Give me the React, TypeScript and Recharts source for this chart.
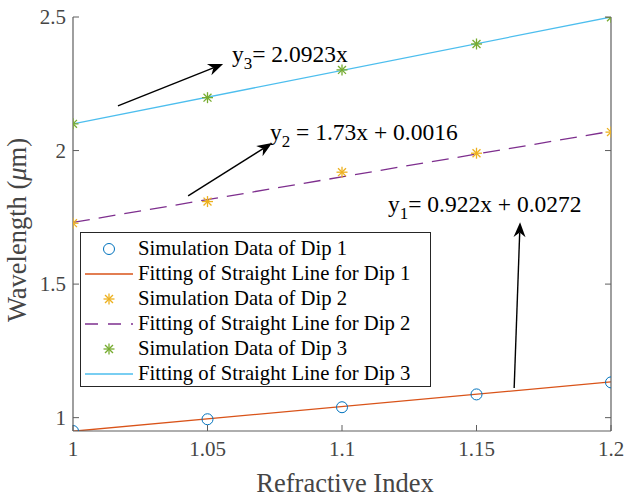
import React from 'react';
import {
  ComposedChart, Line, Scatter, XAxis, YAxis, Legend, ReferenceLine, ReferenceDot,
} from 'recharts';

// refractive index (x) for all simulations
const refIndex = [1, 1.05, 1.1, 1.15, 1.2];

// simulated dip wavelengths (um)
const dip1 = [0.95, 0.994, 1.039, 1.087, 1.132];
const dip2 = [1.728, 1.809, 1.919, 1.99, 2.069];
const dip3 = [2.1, 2.198, 2.302, 2.399, 2.499];

// fitted straight lines, end points
const fitX = [1, 1.2];
const fit1 = [0.949, 1.134];
const fit2 = [1.731, 2.072];
const fit3 = [2.1, 2.5];

const xTicks = [1, 1.05, 1.1, 1.15, 1.2];
const yTicks = [1, 1.5, 2, 2.5];

// annotations: arrows (from -> to) and equation text
const arrowFrom = [{ x: 1.164, y: 1.111 }, { x: 1.0428, y: 1.83 }, { x: 1.0167, y: 2.167 }];
const arrowTo = [{ x: 1.1662, y: 1.732 }, { x: 1.074, y: 2.028 }, { x: 1.0558, y: 2.324 }];
const eqPos = [{ x: 1.1171, y: 1.77 }, { x: 1.0732, y: 2.0395 }, { x: 1.0591, y: 2.3315 }];
const eqSub = ['1', '2', '3'];
const eqText = ['= 0.922x + 0.0272', ' = 1.73x + 0.0016', '= 2.0923x'];

const legendNames = [
  'Simulation Data of Dip 1',
  'Fitting of Straight Line for Dip 1',
  'Simulation Data of Dip 2',
  'Fitting of Straight Line for Dip 2',
  'Simulation Data of Dip 3',
  'Fitting of Straight Line for Dip 3',
];

const FONT = '"Liberation Serif", "Times New Roman", Times, serif';
const AXIS = '#5e5e5e';
const TXT = '#454545';

const toPts = (xs: number[], ys: number[]) => xs.map((x, i) => ({ x, y: ys[i] }));

const Circle = (p: any) => (
  <circle cx={p.cx} cy={p.cy} r={5.5} fill="none" stroke="#0072BD" strokeWidth={1} />
);

const Star = (color: string) => (p: any) => {
  const r = 5.5;
  const d = r * 0.72;
  return (
    <g stroke={color} strokeWidth={1.3}>
      <line x1={p.cx - r} y1={p.cy} x2={p.cx + r} y2={p.cy} />
      <line x1={p.cx} y1={p.cy - r} x2={p.cx} y2={p.cy + r} />
      <line x1={p.cx - d} y1={p.cy - d} x2={p.cx + d} y2={p.cy + d} />
      <line x1={p.cx - d} y1={p.cy + d} x2={p.cx + d} y2={p.cy - d} />
    </g>
  );
};

const Arrow = (p: any) => {
  const { x1, y1, x2, y2 } = p;
  const ang = Math.atan2(y2 - y1, x2 - x1);
  const L = 15, W = 6;
  const bx = x2 - L * Math.cos(ang), by = y2 - L * Math.sin(ang);
  const nx = -Math.sin(ang) * W, ny = Math.cos(ang) * W;
  const mx = x2 - L * 0.7 * Math.cos(ang), my = y2 - L * 0.7 * Math.sin(ang);
  return (
    <g>
      <line x1={x1} y1={y1} x2={mx} y2={my} stroke="#000" strokeWidth={1.4} />
      <polygon points={`${x2},${y2} ${bx + nx},${by + ny} ${mx},${my} ${bx - nx},${by - ny}`} fill="#000" />
    </g>
  );
};

const Equation = (i: number) => (p: any) => (
  <text x={p.cx} y={p.cy} fontFamily={FONT} fontSize={23.5} fill="#000">
    y<tspan fontSize={17} dy={7}>{eqSub[i]}</tspan>
    <tspan dy={-7}>{eqText[i]}</tspan>
  </text>
);

const BottomTick = (p: any) => (
  <g>
    <line x1={p.x} y1={p.y} x2={p.x} y2={p.y - 6} stroke={AXIS} />
    <text x={p.x} y={p.y + 25} textAnchor="middle" fontFamily={FONT} fontSize={21} fill={TXT}>
      {p.payload.value}
    </text>
  </g>
);
const LeftTick = (p: any) => (
  <g>
    <line x1={p.x} y1={p.y} x2={p.x + 6} y2={p.y} stroke={AXIS} />
    <text x={p.x - 7} y={p.y + 7} textAnchor="end" fontFamily={FONT} fontSize={21} fill={TXT}>
      {p.payload.value}
    </text>
  </g>
);
const TopTick = (p: any) => <line x1={p.x} y1={p.y} x2={p.x} y2={p.y + 6} stroke={AXIS} />;
const RightTick = (p: any) => <line x1={p.x} y1={p.y} x2={p.x - 6} y2={p.y} stroke={AXIS} />;

const legendIcon = (i: number) => {
  if (i === 0) return <circle cx={24} cy={10} r={5.5} fill="none" stroke="#0072BD" />;
  if (i === 2) return Star('#EDB120')({ cx: 24, cy: 10 });
  if (i === 4) return Star('#77AC30')({ cx: 24, cy: 10 });
  const color = i === 1 ? '#D95319' : i === 3 ? '#7E2F8E' : '#4DBEEE';
  return (
    <line x1={0} y1={10} x2={48} y2={10} stroke={color} strokeWidth={1.3}
      strokeDasharray={i === 3 ? '13 10' : undefined} />
  );
};

const LegendBox = () => (
  <div style={{
    border: '1.5px solid #262626', background: '#fff', padding: '3px 0 0 4px',
    width: 345, height: 150, boxSizing: 'content-box', fontFamily: FONT, fontSize: 20.7, color: '#000',
  }}>
    {legendNames.map((n, i) => (
      <div key={n} style={{ display: 'flex', alignItems: 'center', height: 25, whiteSpace: 'nowrap' }}>
        <svg width={48} height={20} style={{ marginRight: 5 }}>{legendIcon(i)}</svg>
        <span>{n}</span>
      </div>
    ))}
  </div>
);

export default function App() {
  return (
    <div style={{ position: 'absolute', left: 0, top: 0, width: 624, height: 497, background: '#fff' }}>
      <ComposedChart width={624} height={497} margin={{ top: 17, right: 0, bottom: 0, left: 13 }}>
        <XAxis xAxisId="b" type="number" dataKey="x" domain={[1, 1.2]} ticks={xTicks} height={66}
          axisLine={{ stroke: AXIS, strokeWidth: 1.2 }} tickLine={false} tickSize={0} tickMargin={0}
          tick={<BottomTick />} allowDataOverflow interval={0}
          label={(p: any) => {
            const v = p.viewBox;
            return (
              <text x={v.x + v.width / 2 + 3} y={492} textAnchor="middle" fontFamily={FONT} fontSize={26.5} fill={TXT}>
                Refractive Index
              </text>
            );
          }} />
        <XAxis xAxisId="t" orientation="top" type="number" dataKey="x" domain={[1, 1.2]} ticks={xTicks}
          height={0} axisLine={{ stroke: AXIS, strokeWidth: 1.2 }} tickLine={false} tickSize={0} tickMargin={0}
          tick={<TopTick />} allowDataOverflow interval={0} />
        <YAxis yAxisId="l" type="number" domain={[0.95, 2.5]} ticks={yTicks} width={60}
          axisLine={{ stroke: AXIS, strokeWidth: 1.2 }} tickLine={false} tickSize={0} tickMargin={0}
          tick={<LeftTick />} allowDataOverflow interval={0}
          label={(p: any) => {
            const v = p.viewBox;
            const cy = v.y + v.height / 2 + 6;
            return (
              <text x={18} y={cy} transform={`rotate(-90 18 ${cy})`} textAnchor="middle" dy={8}
                fontFamily={FONT} fontSize={26.5} fill={TXT}>
                Wavelength (<tspan fontStyle="italic">μ</tspan>m)
              </text>
            );
          }} />
        <YAxis yAxisId="r" orientation="right" type="number" domain={[0.95, 2.5]} ticks={yTicks} width={13}
          axisLine={{ stroke: AXIS, strokeWidth: 1.2 }} tickLine={false} tickSize={0} tickMargin={0}
          tick={<RightTick />} allowDataOverflow interval={0} />

        <Line xAxisId="b" yAxisId="l" data={toPts(fitX, fit1)} dataKey="y" stroke="#D95319" strokeWidth={1.3}
          dot={false} isAnimationActive={false} />
        <Line xAxisId="b" yAxisId="l" data={toPts(fitX, fit2)} dataKey="y" stroke="#7E2F8E" strokeWidth={1.3}
          strokeDasharray="17 9" dot={false} isAnimationActive={false} />
        <Line xAxisId="b" yAxisId="l" data={toPts(fitX, fit3)} dataKey="y" stroke="#4DBEEE" strokeWidth={1.3}
          dot={false} isAnimationActive={false} />

        <Scatter xAxisId="b" yAxisId="l" data={toPts(refIndex, dip1)} dataKey="y" shape={Circle} isAnimationActive={false} />
        <Scatter xAxisId="b" yAxisId="l" data={toPts(refIndex, dip2)} dataKey="y" shape={Star('#EDB120')} isAnimationActive={false} />
        <Scatter xAxisId="b" yAxisId="l" data={toPts(refIndex, dip3)} dataKey="y" shape={Star('#77AC30')} isAnimationActive={false} />

        {arrowFrom.map((a, i) => (
          <ReferenceLine key={'a' + i} xAxisId="b" yAxisId="l" ifOverflow="visible"
            segment={[a, arrowTo[i]]} shape={Arrow} />
        ))}
        {eqPos.map((e, i) => (
          <ReferenceDot key={'e' + i} xAxisId="b" yAxisId="l" x={e.x} y={e.y} r={0} ifOverflow="visible"
            shape={Equation(i)} />
        ))}

        <Legend layout="vertical" align="center" verticalAlign="middle" content={<LegendBox />}
          wrapperStyle={{ left: 80, top: 232, width: 'auto' }} />
      </ComposedChart>
    </div>
  );
}
